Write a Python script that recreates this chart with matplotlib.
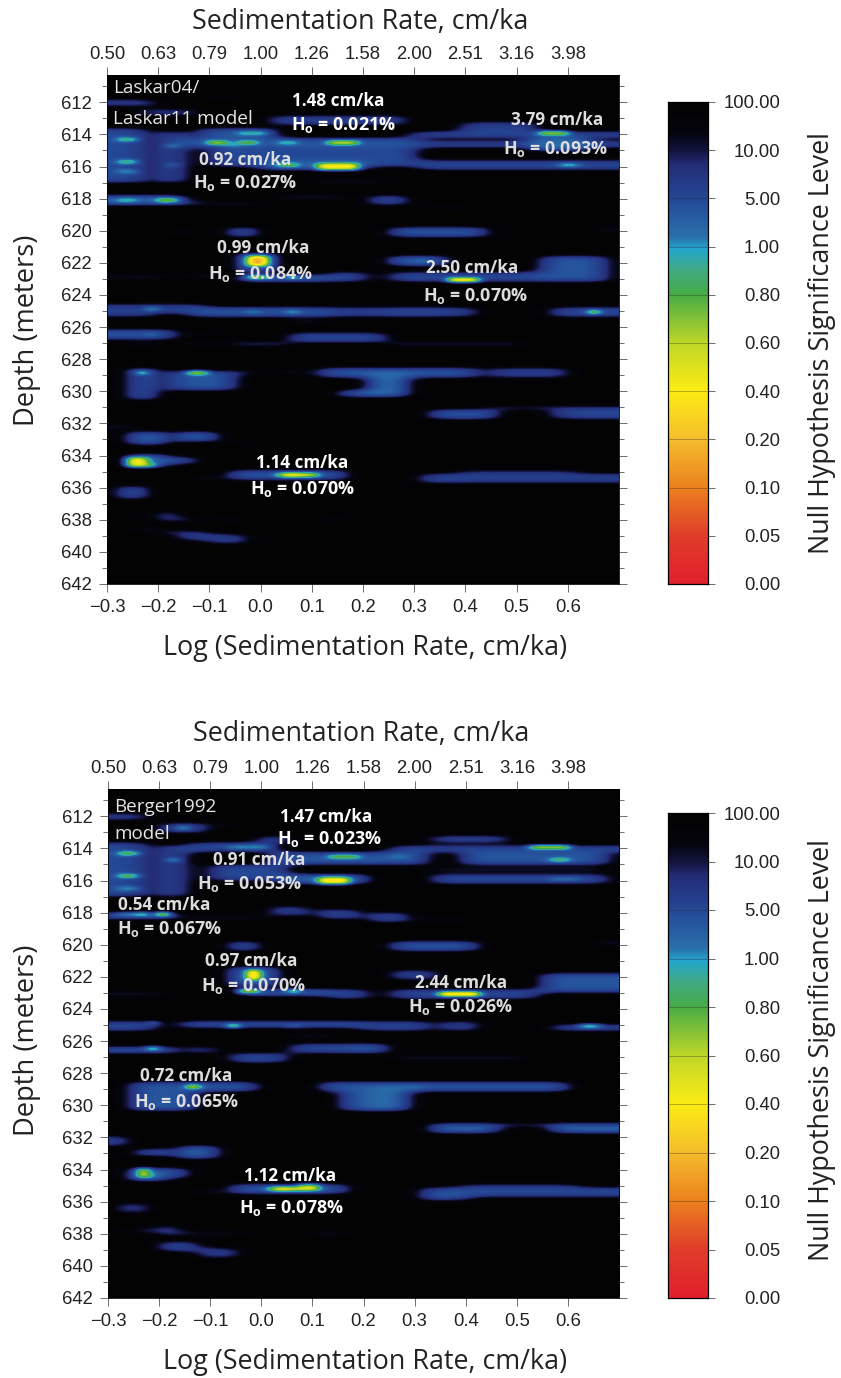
import numpy as np
import matplotlib
matplotlib.use("Agg")
import matplotlib.pyplot as plt
from matplotlib.colors import LinearSegmentedColormap

plt.rcParams['mathtext.fontset'] = 'custom'
plt.rcParams['mathtext.bf'] = 'Open Sans:bold'
plt.rcParams['mathtext.rm'] = 'Open Sans'

W, H = 841, 1378
TITLE_FONT = 'Open Sans'
TICK_FONT = 'Liberation Sans'

# colour bar scale
level_ticks = [0.00, 0.05, 0.10, 0.20, 0.40, 0.60, 0.80, 1.00, 5.00, 10.00, 100.00]
log_ticks = [-0.3, -0.2, -0.1, 0.0, 0.1, 0.2, 0.3, 0.4, 0.5, 0.6]
rate_ticks = ['0.50', '0.63', '0.79', '1.00', '1.26', '1.58', '2.00', '2.51', '3.16', '3.98']
depth_ticks = list(range(612, 643, 2))

# Significance features: (depth from, depth to, log rate from, log rate to, level %)
laskar_broad = [
    (611.9, 612.1, -0.29, -0.22, 6), (611.8, 611.8, -0.10, -0.06, 8), (612.5, 612.7, -0.23, -0.14, 7),
    (613.0, 613.4, 0.02, 0.28, 6), (613.7, 614.2, -0.12, 0.02, 4), (614.3, 614.7, -0.15, 0.30, 4),
    (613.8, 617.0, -0.29, -0.24, 5), (614.0, 617.0, -0.20, -0.15, 5), (614.8, 616.0, -0.10, 0.30, 5),
    (615.8, 616.2, 0.00, 0.20, 3), (613.9, 614.2, 0.30, 0.70, 5), (613.4, 613.7, 0.40, 0.55, 6),
    (614.6, 614.7, 0.30, 0.70, 5), (614.3, 615.0, 0.55, 0.65, 2), (616.0, 616.0, 0.33, 0.70, 5),
    (617.0, 617.0, 0.10, 0.25, 8), (618.0, 618.3, -0.30, -0.16, 3), (618.4, 618.4, -0.14, -0.02, 8),
    (618.0, 618.0, 0.04, 0.10, 7), (618.0, 618.0, 0.13, 0.17, 7), (618.2, 618.2, 0.23, 0.29, 5),
    (618.5, 618.5, 0.34, 0.40, 8), (620.2, 620.2, -0.18, -0.13, 8), (620.1, 620.1, -0.05, -0.01, 4),
    (620.2, 620.2, 0.27, 0.44, 4), (620.0, 620.0, 0.67, 0.70, 8), (621.5, 622.6, -0.04, 0.03, 3),
    (622.0, 622.0, 0.27, 0.37, 3), (621.8, 623.2, 0.57, 0.68, 4), (623.0, 623.0, -0.30, -0.26, 8),
    (623.0, 623.0, -0.23, -0.20, 7), (623.0, 623.0, -0.14, -0.10, 7), (623.0, 623.1, -0.03, 0.12, 3),
    (623.0, 623.0, 0.15, 0.20, 5), (623.0, 623.0, 0.27, 0.55, 5), (624.7, 625.4, -0.30, -0.22, 6),
    (625.0, 625.0, -0.22, -0.12, 6), (625.1, 625.1, -0.13, 0.12, 4), (625.1, 625.1, 0.15, 0.25, 6),
    (625.1, 625.1, 0.27, 0.34, 5), (625.1, 625.1, 0.37, 0.42, 6), (625.0, 625.3, 0.58, 0.70, 5),
    (625.8, 625.8, 0.07, 0.13, 8), (626.4, 626.8, -0.30, -0.17, 4), (626.5, 626.5, -0.11, -0.09, 8),
    (626.7, 626.7, 0.06, 0.25, 5), (627.2, 627.2, -0.25, -0.22, 8), (627.2, 627.2, -0.14, -0.10, 7),
    (627.1, 627.2, -0.05, 0.05, 5), (627.2, 627.2, 0.27, 0.52, 7), (628.8, 630.5, -0.26, -0.22, 4),
    (629.0, 630.0, -0.18, -0.06, 4), (628.9, 628.9, -0.06, -0.02, 7), (629.0, 629.0, 0.04, 0.08, 8),
    (628.9, 628.9, 0.13, 0.42, 4), (629.0, 629.0, 0.46, 0.60, 6), (630.2, 630.3, 0.16, 0.28, 3),
    (629.0, 630.4, 0.22, 0.28, 2), (631.4, 631.7, 0.34, 0.47, 4), (631.2, 631.2, 0.47, 0.70, 7),
    (631.5, 631.5, 0.58, 0.63, 6), (631.4, 631.7, 0.65, 0.70, 5), (632.4, 632.4, -0.30, -0.26, 7),
    (632.8, 633.3, -0.26, -0.20, 3), (632.8, 633.2, -0.16, -0.09, 3), (633.3, 633.3, -0.05, -0.03, 8),
    (634.2, 634.8, -0.26, -0.20, 3), (634.3, 634.6, -0.20, -0.14, 4), (635.4, 635.4, -0.05, 0.17, 4),
    (635.5, 635.5, -0.14, -0.09, 8), (635.5, 635.5, 0.32, 0.70, 6), (635.5, 635.8, 0.33, 0.40, 5),
    (635.1, 635.1, 0.40, 0.63, 8), (636.2, 636.7, -0.27, -0.23, 4), (638.0, 638.0, -0.20, -0.17, 5),
    (638.1, 638.1, -0.16, -0.13, 7), (638.1, 638.1, -0.07, -0.03, 8), (638.1, 638.1, 0.13, 0.16, 9),
    (638.0, 638.0, -0.28, -0.27, 8), (638.7, 638.7, -0.25, -0.21, 8), (639.0, 639.0, -0.20, -0.17, 7),
    (639.1, 639.1, -0.15, -0.12, 6), (639.3, 639.3, -0.10, -0.03, 6),
]
laskar_peaks = [
    (613.9, 613.9, -0.04, 0.01, 0.8), (614.5, 614.5, -0.10, -0.08, 0.45), (614.7, 614.7, -0.06, -0.05, 0.9),
    (614.6, 614.6, -0.03, -0.01, 0.6), (614.6, 614.6, 0.05, 0.06, 0.8), (614.5, 614.5, 0.15, 0.18, 0.35),
    (614.3, 614.3, -0.27, -0.26, 0.7), (615.7, 615.7, -0.27, -0.26, 0.7), (616.4, 616.4, -0.27, -0.26, 0.9),
    (614.7, 614.7, -0.18, -0.17, 0.9), (615.9, 615.9, -0.18, -0.17, 1.0), (615.9, 616.1, 0.125, 0.18, 0.35),
    (615.9, 615.9, 0.04, 0.07, 0.6), (613.9, 613.9, 0.56, 0.61, 0.4), (616.0, 616.0, 0.60, 0.62, 0.8),
    (618.1, 618.1, -0.27, -0.26, 0.8), (618.2, 618.2, -0.19, -0.18, 0.5), (621.7, 622.1, -0.01, 0.00, 0.15),
    (622.0, 622.0, 0.33, 0.33, 1.5), (623.0, 623.0, -0.02, 0.00, 0.4), (623.0, 623.0, 0.06, 0.06, 0.6),
    (623.1, 623.1, 0.38, 0.43, 0.1), (625.0, 625.0, -0.21, -0.21, 0.8), (625.1, 625.1, -0.01, -0.01, 0.9),
    (625.1, 625.1, 0.06, 0.06, 0.8), (625.2, 625.2, 0.66, 0.67, 0.35), (626.6, 626.6, -0.21, -0.21, 1.5),
    (628.9, 628.9, -0.245, -0.245, 0.6), (628.9, 628.9, -0.13, -0.12, 0.4), (634.3, 634.7, -0.25, -0.24, 0.4),
    (634.7, 634.7, -0.22, -0.22, 0.7), (635.4, 635.4, 0.035, 0.10, 0.3), (635.4, 635.4, 0.06, 0.06, 0.1),
]
berger_broad = [
    (611.9, 612.1, -0.30, -0.24, 6), (612.7, 612.7, -0.19, -0.11, 5), (612.6, 612.6, -0.07, -0.05, 8),
    (613.3, 613.6, 0.00, 0.05, 5), (613.7, 614.2, -0.13, 0.03, 5), (613.3, 613.5, 0.34, 0.48, 5),
    (613.9, 614.1, 0.27, 0.70, 5), (614.3, 615.0, 0.40, 0.68, 4), (614.4, 614.9, 0.03, 0.33, 4),
    (613.8, 617.0, -0.29, -0.24, 5), (614.0, 617.0, -0.20, -0.15, 5), (615.8, 616.2, 0.04, 0.20, 3),
    (615.2, 616.0, -0.10, 0.05, 5), (616.0, 616.0, 0.34, 0.68, 5), (615.4, 615.4, 0.33, 0.68, 8),
    (618.1, 618.3, -0.30, -0.18, 4), (618.3, 618.3, -0.14, 0.00, 8), (618.0, 618.0, 0.03, 0.08, 6),
    (618.1, 618.1, 0.13, 0.18, 5), (618.3, 618.3, 0.23, 0.29, 5), (618.5, 618.5, 0.32, 0.40, 8),
    (620.2, 620.2, 0.26, 0.43, 4), (620.2, 620.2, -0.05, -0.01, 4), (620.1, 620.1, -0.14, -0.13, 8),
    (620.0, 620.0, 0.66, 0.70, 7), (621.5, 622.6, -0.05, 0.03, 3), (622.0, 622.0, 0.27, 0.35, 6),
    (622.0, 623.0, 0.57, 0.70, 4), (623.1, 623.1, -0.29, -0.26, 7), (623.1, 623.1, -0.23, -0.20, 8),
    (623.0, 623.1, -0.04, 0.12, 3), (623.1, 623.1, 0.15, 0.20, 5), (623.1, 623.1, 0.27, 0.55, 5),
    (624.9, 625.3, -0.30, -0.21, 5), (625.0, 625.1, -0.15, 0.20, 4), (625.1, 625.1, 0.20, 0.25, 6),
    (625.1, 625.1, 0.27, 0.33, 5), (625.1, 625.1, 0.37, 0.42, 6), (625.1, 625.3, 0.58, 0.70, 5),
    (625.7, 625.7, 0.07, 0.12, 7), (626.5, 626.7, -0.30, -0.17, 4), (626.5, 626.8, -0.14, -0.10, 6),
    (627.1, 627.1, -0.05, 0.05, 5), (626.5, 626.5, 0.06, 0.17, 5), (626.6, 626.6, 0.19, 0.25, 4),
    (627.1, 627.1, 0.27, 0.52, 7), (629.0, 629.0, -0.25, -0.02, 4), (628.8, 630.4, -0.25, -0.13, 4),
    (629.0, 629.0, 0.13, 0.60, 4), (629.0, 630.3, 0.17, 0.20, 4), (629.0, 630.4, 0.23, 0.28, 2),
    (631.4, 631.7, 0.34, 0.47, 3), (631.3, 631.3, 0.47, 0.58, 7), (631.4, 631.7, 0.58, 0.70, 3),
    (632.4, 632.4, -0.30, -0.27, 5), (632.9, 633.1, -0.23, -0.20, 3), (633.2, 633.2, -0.26, -0.23, 7),
    (632.8, 633.3, -0.15, -0.10, 3), (633.2, 633.2, -0.18, -0.17, 8), (634.2, 634.8, -0.26, -0.20, 3),
    (634.2, 634.6, -0.20, -0.15, 4), (635.4, 635.4, -0.05, 0.17, 4), (635.5, 635.5, -0.14, -0.10, 7),
    (635.5, 635.5, 0.33, 0.70, 5), (635.5, 635.9, 0.33, 0.40, 4), (635.1, 635.1, 0.40, 0.63, 7),
    (636.5, 636.5, -0.27, -0.23, 6), (638.0, 638.0, -0.20, -0.17, 5), (638.0, 638.0, -0.28, -0.26, 8),
    (638.0, 638.0, -0.24, -0.21, 8), (638.1, 638.1, -0.15, -0.10, 8), (638.1, 638.1, -0.07, -0.04, 8),
    (638.2, 638.2, 0.10, 0.16, 7), (639.0, 639.0, -0.19, -0.13, 5), (639.3, 639.3, -0.11, -0.05, 6),
]
berger_peaks = [
    (614.0, 614.0, -0.05, 0.00, 0.9), (614.0, 614.0, 0.55, 0.61, 0.4), (614.7, 614.7, 0.58, 0.61, 0.7),
    (614.6, 614.6, 0.14, 0.18, 0.6), (614.6, 614.6, 0.26, 0.29, 1.2), (615.9, 616.1, 0.125, 0.17, 0.3),
    (616.0, 616.0, 0.59, 0.62, 1.2), (614.4, 614.4, -0.27, -0.26, 0.6), (615.8, 615.8, -0.27, -0.26, 0.6),
    (616.5, 616.5, -0.27, -0.26, 0.9), (614.7, 614.7, -0.18, -0.18, 0.8), (612.7, 612.7, -0.16, -0.15, 0.8),
    (618.2, 618.2, -0.27, -0.26, 0.9), (618.2, 618.2, -0.23, -0.23, 0.6), (618.2, 618.2, -0.20, -0.19, 0.15),
    (621.7, 622.1, -0.02, -0.01, 0.1), (623.0, 623.0, -0.04, -0.02, 0.35), (623.0, 623.0, 0.06, 0.06, 0.5),
    (623.1, 623.1, 0.37, 0.43, 0.08), (625.0, 625.0, -0.21, -0.21, 1.5), (625.1, 625.1, -0.05, -0.05, 0.4),
    (625.1, 625.1, 0.06, 0.06, 1.2), (625.2, 625.2, 0.65, 0.66, 0.7), (626.6, 626.6, -0.21, -0.21, 0.5),
    (629.0, 629.0, -0.135, -0.135, 0.15), (629.0, 629.0, 0.30, 0.30, 1.0), (634.2, 634.6, -0.245, -0.245, 0.45),
    (634.6, 634.6, -0.22, -0.22, 1.0), (635.4, 635.4, 0.03, 0.10, 0.35), (635.4, 635.4, 0.05, 0.05, 0.15),
    (635.1, 635.1, 0.08, 0.10, 0.6),
]

# Annotations: rate label, its position, H0 label, its position
laskar_notes = [
    ('1.48 cm/ka', 0.151, 611.9, '0.021%', 0.161, 613.4, 'white'),
    ('3.79 cm/ka', 0.579, 613.1, '0.093%', 0.575, 614.9, '#dddddd'),
    ('0.92 cm/ka', -0.030, 615.6, '0.027%', -0.030, 617.0, '#dddddd'),
    ('0.99 cm/ka', 0.005, 621.05, '0.084%', 0.000, 622.67, '#dddddd'),
    ('2.50 cm/ka', 0.413, 622.3, '0.070%', 0.419, 624.04, '#dddddd'),
    ('1.14 cm/ka', 0.081, 634.46, '0.070%', 0.081, 636.08, 'white'),
]
berger_notes = [
    ('1.47 cm/ka', 0.127, 612.06, '0.023%', 0.134, 613.4, 'white'),
    ('0.91 cm/ka', -0.005, 614.74, '0.053%', -0.024, 616.2, '#dddddd'),
    ('0.54 cm/ka', -0.190, 617.5, '0.067%', -0.180, 619.0, '#dddddd'),
    ('0.97 cm/ka', -0.020, 621.0, '0.070%', -0.015, 622.6, '#dddddd'),
    ('2.44 cm/ka', 0.390, 622.4, '0.026%', 0.390, 623.9, '#dddddd'),
    ('0.72 cm/ka', -0.147, 628.2, '0.065%', -0.147, 629.8, '#dddddd'),
    ('1.12 cm/ka', 0.056, 634.4, '0.078%', 0.060, 636.4, 'white'),
]

cmap_stops = [
    (0.00, (226, 32, 44)), (0.10, (224, 62, 42)), (0.20, (236, 130, 30)), (0.30, (245, 190, 45)),
    (0.40, (252, 236, 20)), (0.50, (190, 215, 40)), (0.60, (70, 172, 70)), (0.65, (65, 170, 130)),
    (0.695, (35, 165, 205)), (0.72, (42, 112, 172)), (0.80, (36, 72, 150)), (0.87, (36, 44, 118)),
    (0.90, (18, 20, 62)), (0.935, (5, 5, 14)), (1.00, (3, 3, 3)),
]
cmap = LinearSegmentedColormap.from_list(
    'nullsig', [(p, tuple(c / 255 for c in rgb)) for p, rgb in cmap_stops], N=512)

tick_pos = np.linspace(0, 1, len(level_ticks))
rate_edges = np.arange(-0.30, 0.7001, 0.02)
depth_edges = np.arange(610.3, 642.01, 0.2)
KERNEL_X = np.array([1, 2, 4, 2, 1]) / 10.0
KERNEL_Y = np.array([1, 4, 1]) / 6.0


def px_axes(fig, left, right, top, bottom):
    return fig.add_axes([left / W, 1 - bottom / H, (right - left) / W, (bottom - top) / H])


def paint(grid, features, pad_limit):
    for d0, d1, x0, x1, lev in features:
        pad = 1 if lev <= pad_limit and d0 == d1 else 0
        r0 = max(np.argmin(np.abs(depth_edges - d0)) - pad, 0)
        r1 = np.argmin(np.abs(depth_edges - d1)) + pad
        c0 = np.argmin(np.abs(rate_edges - x0))
        c1 = np.argmin(np.abs(rate_edges - x1))
        sub = grid[r0:r1 + 1, c0:c1 + 1]
        grid[r0:r1 + 1, c0:c1 + 1] = np.minimum(sub, lev)


def build_grid(broad, peaks):
    base = np.full((len(depth_edges), len(rate_edges)), 100.0)
    paint(base, broad, 6)
    index = np.interp(base, level_ticks, tick_pos)
    # soften block edges of the hand-read features
    padded = np.pad(index, ((0, 0), (2, 2)), mode='edge')
    index = np.apply_along_axis(lambda r: np.convolve(r, KERNEL_X, mode='valid'), 1, padded)
    padded = np.pad(index, ((1, 1), (0, 0)), mode='edge')
    index = np.apply_along_axis(lambda c: np.convolve(c, KERNEL_Y, mode='valid'), 0, padded)
    top = np.full(base.shape, 100.0)
    paint(top, peaks, 0)
    return np.minimum(index, np.interp(top, level_ticks, tick_pos))


def panel(fig, box, broad, peaks, notes, model_lines, title_y, xlabel_y, ylabel_y):
    ax = px_axes(fig, *box)
    img = build_grid(broad, peaks)
    ax.imshow(img, cmap=cmap, vmin=0, vmax=1, aspect='auto', interpolation='bicubic',
              extent=[rate_edges[0], rate_edges[-1], depth_edges[-1], depth_edges[0]])
    ax.set_facecolor('black')
    ax.set_xlim(-0.3, 0.70)
    ax.set_ylim(642, 610.3)
    ax.set_xticks(log_ticks)
    ax.set_xticklabels(['\u2212%.1f' % abs(v) if v < 0 else '%.1f' % v for v in log_ticks],
                       fontsize=13.3, fontfamily=TICK_FONT, color='#222222')
    ax.set_yticks(depth_ticks)
    ax.set_yticklabels([str(v) for v in depth_ticks], fontsize=13.3, fontfamily=TICK_FONT, color='#222222')
    ax.set_yticks(np.arange(611, 642, 2), minor=True)
    ax.tick_params(axis='both', which='major', length=5.8, width=0.6, color='#555555', pad=5,
                   top=False, right=True)
    ax.tick_params(axis='y', which='minor', length=3.5, width=0.6, color='#555555', right=True)
    for s in ax.spines.values():
        s.set_linewidth(0.6)
    top = ax.secondary_xaxis('top')
    top.set_xticks(log_ticks)
    top.set_xticklabels(rate_ticks, fontsize=13.3, fontfamily=TICK_FONT, color='#222222')
    top.tick_params(length=5.8, width=0.6, color='#555555', pad=3)
    top.spines['top'].set_linewidth(0.6)

    for (rate, rx, ry, h0, hx, hy, col) in notes:
        ax.text(rx, ry, rate, color=col, fontsize=12.3, fontweight='bold', family=TITLE_FONT,
                ha='center', va='center')
        ax.text(hx, hy, 'H$_{\\mathbf{o}}$ = ' + h0, color=col, fontsize=12.9, fontweight='bold',
                family=TITLE_FONT, ha='center', va='center')
    for text, mx, my in model_lines:
        ax.text(mx, my, text, color='#e4e4e4', fontsize=13.6, family=TITLE_FONT, ha='left', va='center')

    cx = (box[0] + box[1]) / 2
    fig.text(cx / W - 0.003, 1 - title_y / H, 'Sedimentation Rate, cm/ka', fontsize=19.4, family=TITLE_FONT,
             ha='center', va='center', color='#222222')
    fig.text((cx + 2) / W, 1 - xlabel_y / H, 'Log (Sedimentation Rate, cm/ka)', fontsize=19.4,
             family=TITLE_FONT, ha='center', va='center', color='#222222')
    fig.text(27 / W, 1 - ylabel_y / H, 'Depth (meters)', fontsize=19.6, family=TITLE_FONT,
             rotation=90, ha='center', va='center', color='#222222')
    return ax


def colourbar(fig, box, label_y):
    ax = px_axes(fig, *box)
    ramp = np.linspace(1, 0, 400).reshape(-1, 1)
    ax.imshow(ramp, cmap=cmap, vmin=0, vmax=1, aspect='auto', extent=[0, 1, 0, 1])
    ax.set_xticks([])
    ax.set_yticks(tick_pos)
    ax.yaxis.tick_right()
    ax.set_yticklabels(['%.2f' % v for v in level_ticks], fontsize=13.3, fontfamily=TICK_FONT,
                       color='#222222', ha='right')
    ax.tick_params(axis='y', length=5, width=0.6, color='#555555', pad=47)
    ax.set_ylim(0, 1)
    ax.set_xlim(0, 1)
    for p in tick_pos[2:9]:
        ax.axhline(p, color='#222222', lw=0.5, alpha=0.45)
    for s in ax.spines.values():
        s.set_linewidth(0.9)
    fig.text(822 / W, 1 - label_y / H, 'Null Hypothesis Significance Level', fontsize=19.4,
             family=TITLE_FONT, rotation=90, ha='center', va='center', color='#222222')


fig = plt.figure(figsize=(W / 100, H / 100), dpi=100, facecolor='white')
panel(fig, (107, 619, 75, 584), laskar_broad, laskar_peaks, laskar_notes,
      [('Laskar04/', -0.288, 611.1), ('Laskar11 model', -0.288, 613.05)], 22, 648, 330)
panel(fig, (108, 619, 789, 1298), berger_broad, berger_peaks, berger_notes,
      [('Berger1992', -0.288, 611.4), ('model', -0.288, 613.1)], 734, 1362, 1040)
colourbar(fig, (668, 708, 102, 584), 343)
colourbar(fig, (668, 708, 813, 1298), 1050)
fig.savefig('out.png', dpi=100, facecolor='white')
